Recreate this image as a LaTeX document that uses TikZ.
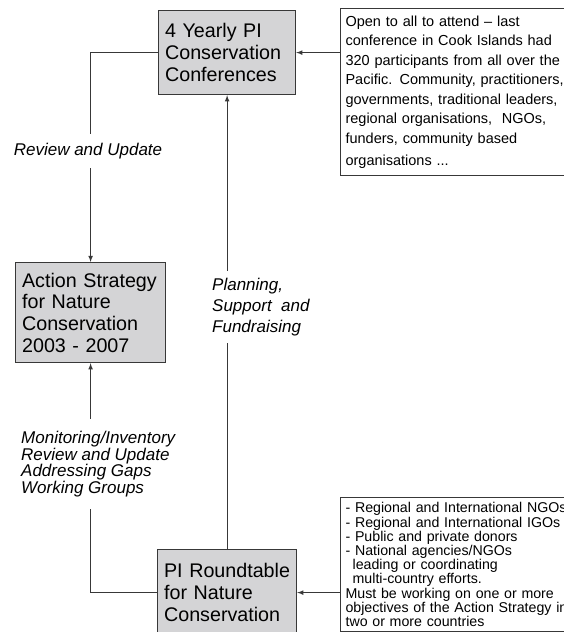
\documentclass[tikz,border=0pt]{standalone}
\usepackage{fontspec}
\setmainfont{Liberation Sans}
\definecolor{boxgray}{HTML}{D4D4D6}
\definecolor{linegray}{HTML}{383838}
\begin{document}
\begin{tikzpicture}[x = 1pt, y = -1pt,
    box/.style = {draw = linegray, fill = boxgray, line width = 1.2pt, anchor = north west,
      align = left, inner xsep = 6.5pt, inner ysep = 5pt, font = \fontsize{19.7}{21.7}\selectfont},
    note/.style = {draw = linegray, line width = 1.1pt, anchor = north west, align = left,
      inner sep = 5pt},
    lab/.style = {fill = white, align = left, inner xsep = 2pt,
      font = \itshape\fontsize{17}{18}\selectfont},
    conn/.style = {-latex, line width = 1.1pt, draw = linegray}]
  \useasboundingbox (0, 0) rectangle (563, 632);
  % the three gray boxes
  \node[box, text width = 124pt, minimum height = 84pt] (conf) at (158, 10)
    {4 Yearly PI\\Conservation\\Conferences};
  \node[box, text width = 137pt, minimum height = 100pt] (strategy) at (15, 262)
    {Action Strategy\\for Nature\\Conservation\\2003 - 2007};
  \node[box, text width = 126pt, minimum height = 86pt] (roundtable) at (157, 549)
    {PI Roundtable\\for Nature\\Conservation};
  % the two notes on the right
  \node[note, text width = 225pt, minimum height = 167pt,
    font = \fontsize{14.5}{19.5}\selectfont] (attend) at (340, 8)
    {Open to all to attend -- last\\conference in Cook Islands had\\
     320 participants from all over the\\Pacific. Community, practitioners,\\
     governments, traditional leaders,\\regional organisations,~ NGOs,\\
     funders, community based\\[3pt]organisations ...};
  \node[note, text width = 230pt, font = \fontsize{14.2}{14.2}\selectfont] (members) at (340, 497)
    {- Regional and International NGOs\\- Regional and International IGOs\\
     - Public and private donors\\- National agencies/NGOs\\
     \hspace*{0.5em}leading or coordinating\\\hspace*{0.5em}multi-country efforts.\\
     Must be working on one or more\\objectives of the Action Strategy in\\
     two or more countries};
  % connectors
  \draw[conn] (conf.west) -| (strategy.north);
  \draw[conn] (roundtable.west) -| (strategy.south);
  \draw[conn] (roundtable.north) -- (conf.south);
  \draw[conn] (conf.east -| attend.west) -- (conf.east);
  \draw[conn] (roundtable.east -| members.west) -- (roundtable.east);
  % labels on the connectors
  \node[lab, inner ysep = 9pt] (review) at (88, 151) {Review and Update};
  \node[lab, inner ysep = 7pt, anchor = west, font = \itshape\fontsize{17}{21}\selectfont]
    (planning) at (210, 307) {Planning,\\Support~ and\\Fundraising};
  \node[lab, inner ysep = 12pt, anchor = west, font = \itshape\fontsize{17}{16.8}\selectfont]
    (monitoring) at (19, 464) {Monitoring/Inventory\\Review and Update\\Addressing Gaps\\Working Groups};
\end{tikzpicture}
\end{document}
